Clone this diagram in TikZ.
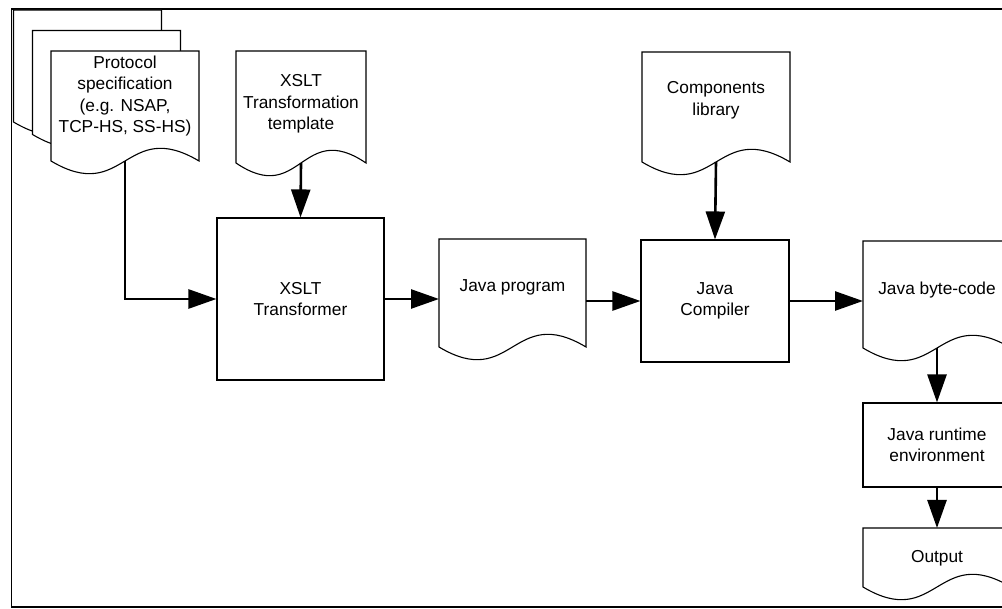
\documentclass[tikz,border=0pt]{standalone}
\usepackage{fontspec}
\setmainfont{Liberation Sans}
\usetikzlibrary{arrows.meta,calc}

\newcommand\lbl{\fontsize{17.3}{21.5}\selectfont}

\tikzset{
  box/.style={draw, line width=1.1pt, inner sep=0pt, align=center, font=\lbl},
  docarea/.style={inner sep=0pt, outer sep=0pt},
  lbl/.style={align=center, inner sep=0pt, font=\lbl},
  docline/.style={draw, line width=1.1pt, fill=white, line join=miter},
  conn/.style={line width=2.6pt, -{Triangle[length=28pt,width=19pt]}},
  frame/.style={draw, line width=1.8pt},
}

% document outline (flat top, wavy bottom) around a named node
\newcommand\docshape[1]{%
  \draw[docline] (#1.north west) -- (#1.north east) -- (#1.south east)
    .. controls ($(#1.south)+(0,44)$) and ($(#1.south)+(0,-44)$) .. (#1.south west) -- cycle;}

\begin{document}
\begin{tikzpicture}[x=1pt, y=1pt]
\useasboundingbox (0,0) rectangle (1002,-609);
\begin{scope}
\clip (0,0) rectangle (1002,-609);

% outer frame
\draw[frame] (11.5,-9) rectangle (1030,-607);

% stacked protocol specifications
\node[docarea, minimum width=148pt, minimum height=112pt] (pb) at (87.5,-66) {};
\docshape{pb}
\node[docarea, minimum width=148pt, minimum height=104pt] (pm) at (106.5,-82.5) {};
\docshape{pm}
\node[docarea, minimum width=148pt, minimum height=110pt] (pc) at (125,-106) {};
\docshape{pc}
\node[lbl] (pc-t) at (125,-96) {Protocol\\specification\\(e.g. NSAP,\\TCP-HS, SS-HS)};

% transformation template
\node[docarea, minimum width=130pt, minimum height=112pt] (tm) at (301,-107) {};
\docshape{tm}
\node[lbl] (tm-t) at (301,-104) {XSLT\\Transformation\\template};

% components library
\node[docarea, minimum width=148pt, minimum height=110pt] (cl) at (716,-107) {};
\docshape{cl}
\node[lbl] (cl-t) at (716,-100.5) {Components\\library};

% processing boxes
\node[box, minimum width=167pt, minimum height=162pt] (xt) at (300.5,-299) {XSLT\\Transformer};
\node[box, minimum width=148pt, minimum height=122pt] (jc) at (715,-301) {Java\\Compiler};
\node[box, minimum width=148pt, minimum height=84pt] (jr) at (937,-445) {Java runtime\\environment};

% intermediate and final documents
\node[docarea, minimum width=147pt, minimum height=108pt] (jp) at (512.5,-293) {};
\docshape{jp}
\node[lbl] (jp-t) at (512.5,-287) {Java program};

\node[docarea, minimum width=148pt, minimum height=107pt] (bc) at (937,-294.5) {};
\docshape{bc}
\node[lbl] (bc-t) at (937,-290) {Java byte-code};

\node[docarea, minimum width=148pt, minimum height=59pt] (out) at (937,-557.5) {};
\docshape{out}
\node[lbl] (out-t) at (937,-558) {Output};

% flow
\draw[conn] (pc.south) |- (xt.west);
\draw[conn] (tm.south) -- (xt.north);
\draw[conn] (xt.east) -- (xt.east -| jp.west);
\draw[conn] (jc.west -| jp.east) -- (jc.west);
\draw[conn] (cl.south) -- (jc.north);
\draw[conn] (jc.east) -- (jc.east -| bc.west);
\draw[conn] (bc.south) -- (jr.north);
\draw[conn] (jr.south) -- (out.north);
\end{scope}
\end{tikzpicture}
\end{document}
